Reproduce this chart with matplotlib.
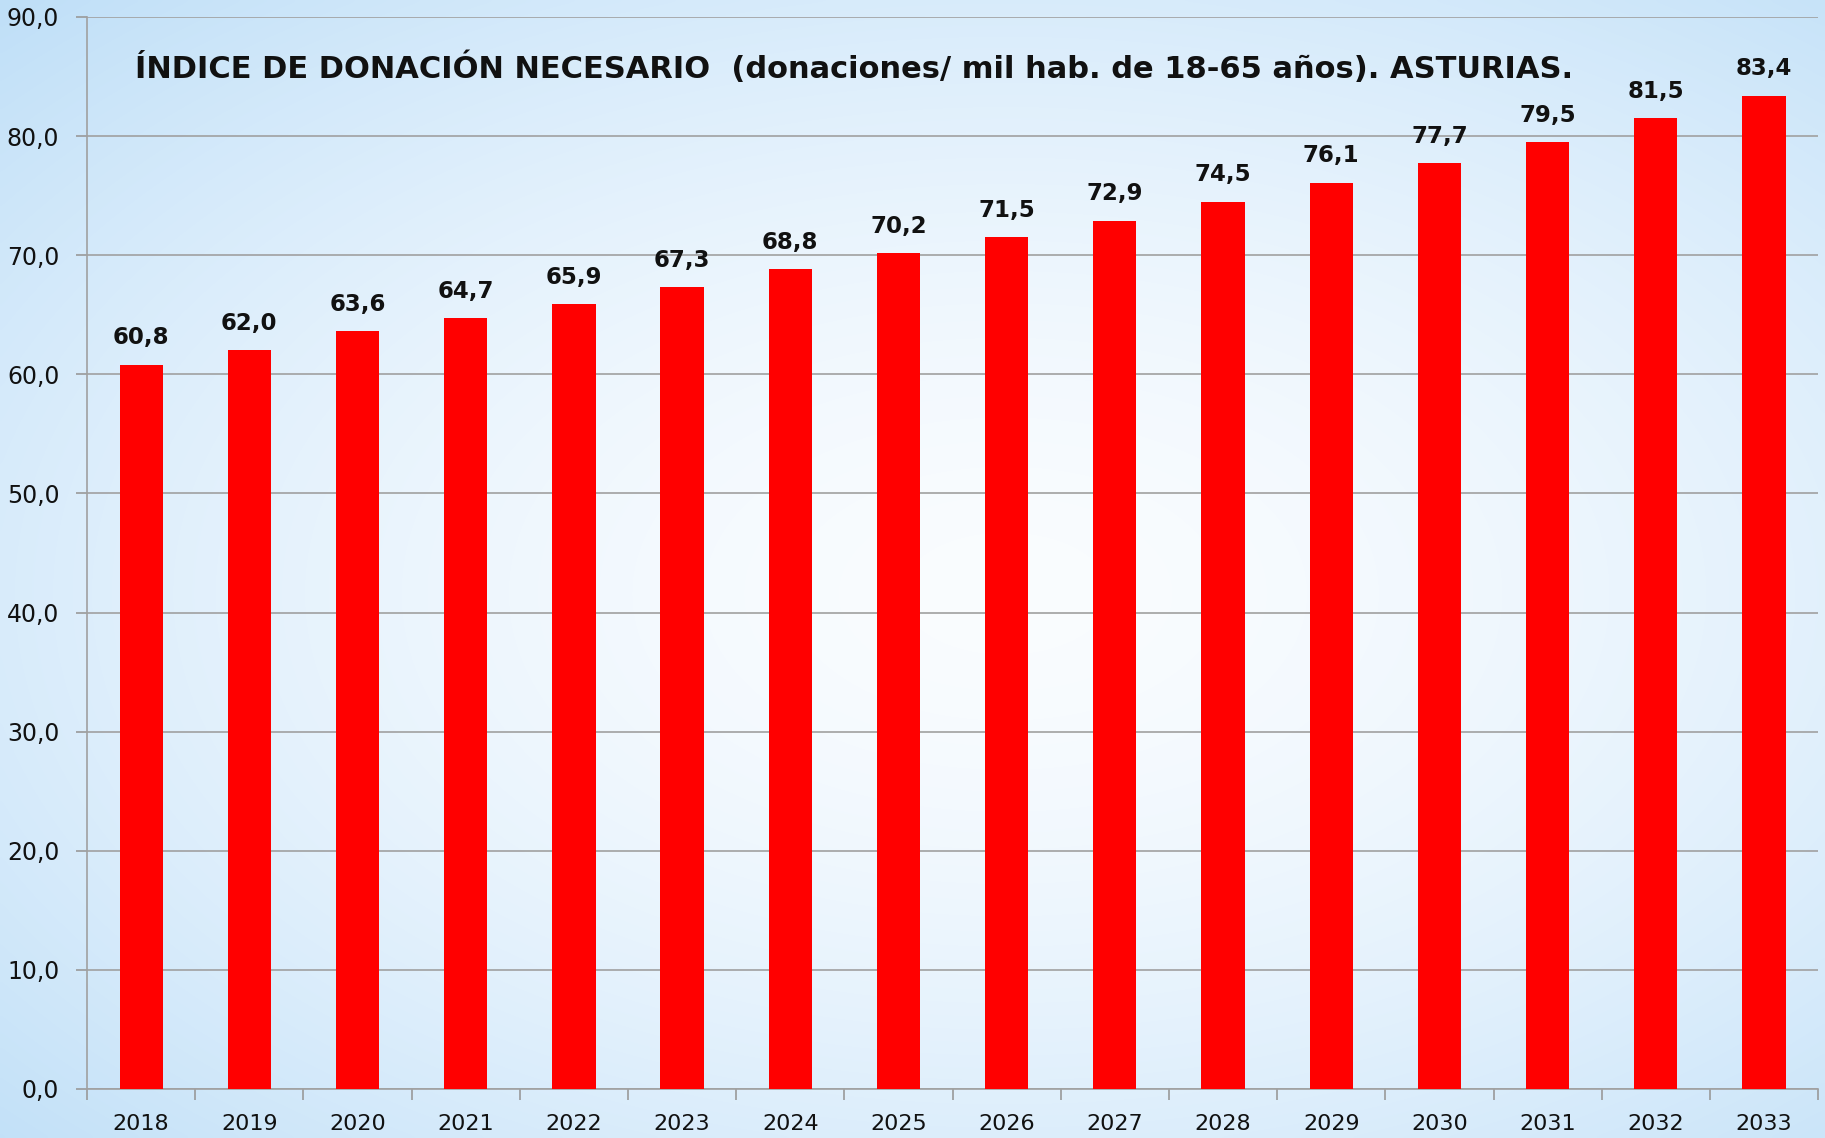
import numpy as np
import matplotlib
matplotlib.use("Agg")
import matplotlib.pyplot as plt
from matplotlib.ticker import FuncFormatter, FixedLocator

# data
years = ["2018", "2019", "2020", "2021", "2022", "2023", "2024", "2025",
         "2026", "2027", "2028", "2029", "2030", "2031", "2032", "2033"]
indice = [60.8, 62.0, 63.6, 64.7, 65.9, 67.3, 68.8, 70.2,
          71.5, 72.9, 74.5, 76.1, 77.7, 79.5, 81.5, 83.4]
title = "ÍNDICE DE DONACIÓN NECESARIO  (donaciones/ mil hab. de 18-65 años). ASTURIAS."

plt.rcParams["font.family"] = ["DejaVu Sans"]

fig = plt.figure(figsize=(18.25, 11.38), dpi=100)

# === background: soft blue with a pale radial centre ===
bg = fig.add_axes([0, 0, 1, 1], zorder=-10)
h, w = 300, 480
yy, xx = np.mgrid[0:h, 0:w]
r = np.sqrt(((xx / w - 0.55) / 0.8) ** 2 + ((yy / h - 0.52) / 0.75) ** 2)
t = np.clip(r, 0, 1) ** 1.6
edge = np.array([0.74, 0.87, 0.97])
centre = np.array([0.98, 0.99, 1.0])
img = centre[None, None, :] * (1 - t[..., None]) + edge[None, None, :] * t[..., None]
bg.imshow(img, aspect="auto", extent=[0, 1, 0, 1], interpolation="bicubic")
bg.set_axis_off()

# === bar chart ===
ax = fig.add_axes([0.0477, 0.0431, 0.9485, 0.942])
ax.patch.set_alpha(0)
x = np.arange(len(years))
ax.bar(x, indice, width=0.40, color="#ff0000", zorder=3)

for xi, v in zip(x, indice):
    ax.annotate(f"{v:.1f}".replace(".", ","), (xi, v), xytext=(0, 11),
                textcoords="offset points", ha="center", va="bottom",
                fontsize=16.5, fontweight="bold", color="#111111")

ax.set_xlim(-0.5, len(years) - 0.5)
ax.set_ylim(0, 90)
ax.set_yticks(np.arange(0, 91, 10))
ax.yaxis.set_major_formatter(FuncFormatter(lambda v, p: f"{v:.1f}".replace(".", ",")))
ax.set_xticks(x)
ax.set_xticklabels(years)
ax.xaxis.set_minor_locator(FixedLocator(np.arange(-0.5, len(years), 1)))
ax.tick_params(axis="x", which="major", length=0, pad=18, labelsize=16, labelcolor="#111111")
ax.tick_params(axis="x", which="minor", length=8, width=1.2, color="#999999", direction="out")
ax.tick_params(axis="y", length=8, width=1.2, color="#999999", pad=12,
               labelsize=17, labelcolor="#111111")

ax.grid(axis="y", color="#a0a0a0", linewidth=1.2, zorder=0)
for s in ["top", "right"]:
    ax.spines[s].set_visible(False)
for s in ["left", "bottom"]:
    ax.spines[s].set_color("#a0a0a0")
    ax.spines[s].set_linewidth(1.2)

fig.text(0.468, 0.9407, title, ha="center", va="center",
         fontsize=22, fontweight="bold", color="#111111")

fig.savefig("out.png", dpi=100)
